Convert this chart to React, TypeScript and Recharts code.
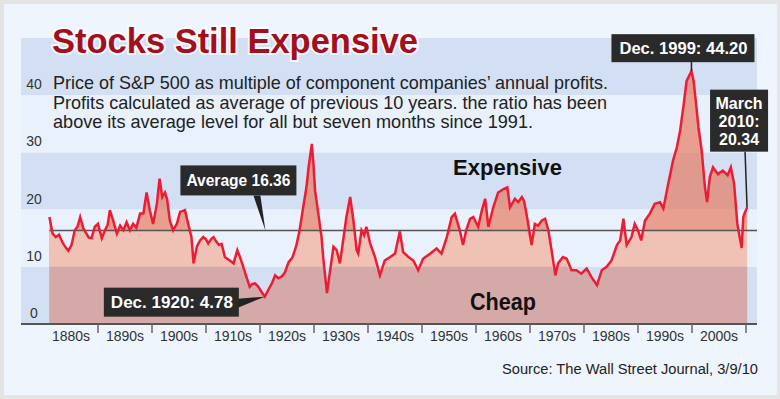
import React from "react";
import {
  ComposedChart,
  Area,
  Line,
  XAxis,
  YAxis,
  ReferenceArea,
  ReferenceLine,
  ReferenceDot,
} from "recharts";

// cyclically adjusted P/E of the S&P 500
const years = [
  1881.0, 1881.6, 1882.2, 1882.8, 1883.4, 1884.0, 1884.5, 1885.1, 1885.7, 1886.2,
  1886.7, 1887.3, 1887.8, 1888.3, 1888.8, 1889.4, 1890.0, 1890.7, 1891.3, 1891.8,
  1892.2, 1892.8, 1893.5, 1894.1, 1894.7, 1895.3, 1895.9, 1896.5, 1897.1, 1897.8,
  1898.4, 1899.0, 1899.6, 1900.2, 1900.9, 1901.4, 1901.9, 1902.4, 1902.8, 1903.3,
  1903.9, 1904.6, 1905.2, 1906.1, 1906.7, 1907.3, 1907.7, 1908.3, 1908.9, 1909.5,
  1910.0, 1910.4, 1911.0, 1911.4, 1911.9, 1912.4, 1912.9, 1913.5, 1914.4, 1915.1,
  1915.8, 1916.3, 1916.9, 1917.5, 1918.1, 1918.6, 1919.1, 1919.7, 1920.3, 1920.9,
  1921.5, 1922.2, 1922.8, 1923.4, 1924.0, 1924.6, 1925.3, 1926.0, 1926.7, 1927.3,
  1928.0, 1928.6, 1929.0, 1929.6, 1929.9, 1930.2, 1930.8, 1931.4, 1931.7, 1932.4,
  1933.0, 1933.6, 1934.2, 1934.8, 1935.4, 1936.0, 1936.7, 1937.3, 1937.9, 1938.2,
  1938.8, 1939.3, 1939.7, 1940.4, 1941.3, 1942.2, 1943.1, 1944.1, 1945.0, 1945.9,
  1946.5, 1947.5, 1948.4, 1949.3, 1950.2, 1951.5, 1952.7, 1953.6, 1954.6, 1955.5,
  1956.1, 1957.0, 1957.6, 1958.2, 1958.9, 1959.5, 1960.4, 1961.1, 1961.7, 1962.3,
  1963.2, 1964.1, 1965.1, 1965.8, 1966.3, 1967.2, 1967.8, 1968.5, 1968.9, 1969.4,
  1970.3, 1970.9, 1971.5, 1972.2, 1972.8, 1973.4, 1974.0, 1974.7, 1975.2, 1976.1,
  1976.8, 1977.7, 1978.6, 1979.5, 1980.5, 1981.4, 1982.4, 1983.3, 1984.2, 1985.1,
  1986.1, 1986.7, 1987.3, 1987.9, 1988.8, 1989.4, 1990.0, 1990.6, 1991.3, 1992.2,
  1993.1, 1994.1, 1994.7, 1995.6, 1996.5, 1997.2, 1997.8, 1998.4, 1999.0, 1999.9,
  2000.3, 2000.7, 2001.2, 2001.8, 2002.4, 2002.8, 2003.3, 2003.9, 2004.8, 2005.7,
  2006.6, 2007.2, 2007.8, 2008.4, 2009.2, 2009.5, 2009.8, 2010.2,
];

const peRatio = [
  18.7, 15.8, 15.2, 15.6, 14.3, 13.4, 12.8, 13.8, 16.4, 17.0,
  18.7, 16.7, 15.9, 15.1, 15.0, 17.0, 17.5, 15.0, 16.4, 17.4,
  19.9, 18.1, 15.8, 17.2, 16.4, 17.8, 16.4, 17.5, 16.8, 19.3,
  19.3, 23.0, 19.9, 17.5, 21.0, 25.4, 22.2, 23.0, 21.8, 18.1,
  16.4, 17.5, 19.6, 19.9, 17.5, 15.2, 10.6, 13.5, 14.6, 15.2,
  14.8, 14.1, 14.9, 15.2, 14.4, 13.8, 14.0, 11.7, 11.1, 10.6,
  12.9, 11.7, 10.0, 8.2, 6.5, 7.0, 7.1, 6.5, 5.6, 4.78,
  5.9, 7.1, 8.5, 8.0, 8.3, 9.0, 10.8, 11.6, 13.6, 16.2,
  20.4, 23.9, 27.4, 31.5, 28.0, 23.3, 19.3, 15.2, 11.7, 5.4,
  9.4, 13.5, 12.9, 10.6, 14.6, 18.7, 22.2, 18.1, 12.9, 12.3,
  16.4, 15.5, 17.0, 14.1, 11.7, 8.5, 11.1, 11.7, 12.3, 16.2,
  12.6, 11.7, 11.1, 9.4, 11.4, 12.3, 13.2, 12.3, 15.2, 18.7,
  19.3, 16.4, 13.8, 16.4, 18.4, 18.7, 17.0, 19.9, 21.9, 17.0,
  20.4, 23.0, 23.6, 23.9, 20.4, 21.9, 21.3, 22.2, 21.5, 19.0,
  13.8, 17.5, 17.2, 18.1, 18.4, 16.4, 12.9, 8.5, 10.6, 11.7,
  11.4, 9.4, 9.4, 8.8, 9.7, 8.2, 6.8, 9.4, 10.0, 11.1,
  13.8, 14.6, 18.4, 13.8, 15.2, 17.5, 16.4, 14.6, 18.1, 19.3,
  21.0, 21.3, 20.2, 24.5, 28.6, 30.9, 33.8, 37.9, 42.5, 44.2,
  42.5, 39.0, 34.4, 30.3, 23.9, 21.3, 25.7, 27.4, 26.2, 26.8,
  26.0, 27.4, 24.5, 17.5, 13.3, 18.7, 19.5, 20.34,
];

const AVERAGE = 16.36;
const CHEAP_LEVEL = 10;
const yTicks = [0, 10, 20, 30, 40];
const decadeEnds = [1890, 1900, 1910, 1920, 1930, 1940, 1950, 1960, 1970, 1980, 1990, 2000, 2010];
const blueBands = [
  [0, 10],
  [20, 30],
  [40, 50],
];

const data = years.map((year, i) => ({
  year,
  pe: peRatio[i],
  belowAvg: Math.min(peRatio[i], AVERAGE),
  cheap: Math.min(peRatio[i], CHEAP_LEVEL),
}));

const FONT = "'Liberation Sans', Arial, sans-serif";

// eslint-disable-next-line @typescript-eslint/no-explicit-any
function YTick({ x, y, payload }: any) {
  return (
    <text x={x + 13} y={y - 6} textAnchor="middle" fontSize={14} fontFamily={FONT} fill="#333">
      {payload.value}
    </text>
  );
}

// label sits in the middle of the decade that ends at the tick
// eslint-disable-next-line @typescript-eslint/no-explicit-any
function XTick({ x, y, payload }: any) {
  return (
    <text x={x - 27} y={y + 8} textAnchor="middle" fontSize={14} fontFamily={FONT} fill="#333">
      {`${payload.value - 10}s`}
    </text>
  );
}

// eslint-disable-next-line @typescript-eslint/no-explicit-any
function PeakCallout({ cx, cy }: any) {
  return (
    <g>
      <line x1={cx} y1={cy - 10} x2={cx} y2={cy} stroke="#222" strokeWidth={1.5} />
      <rect x={cx - 80} y={cy - 37} width={143} height={28} fill="#2a2a2a" />
      <text x={cx - 8} y={cy - 17} textAnchor="middle" fontSize={16} fontWeight="bold" fontFamily={FONT} fill="#fff" textLength={128} lengthAdjust="spacingAndGlyphs">
        Dec. 1999: 44.20
      </text>
    </g>
  );
}

// eslint-disable-next-line @typescript-eslint/no-explicit-any
function LatestCallout({ cx, cy }: any) {
  return (
    <g>
      <line x1={cx - 2} y1={cy - 56} x2={cx} y2={cy} stroke="#222" strokeWidth={1.5} />
      <rect x={cx - 37} y={cy - 118} width={58} height={62} fill="#2a2a2a" />
      {["March", "2010:", "20.34"].map((t, i) => (
        <text key={t} x={cx - 8} y={cy - 99 + i * 18} textAnchor="middle" fontSize={16} fontWeight="bold" fontFamily={FONT} fill="#fff">
          {t}
        </text>
      ))}
    </g>
  );
}

// eslint-disable-next-line @typescript-eslint/no-explicit-any
function AverageCallout({ cx, cy }: any) {
  return (
    <g>
      <polygon points={`${cx - 12},${cy - 35} ${cx - 5},${cy - 35} ${cx},${cy}`} fill="#222" />
      <rect x={cx - 85} y={cy - 65} width={116} height={30} fill="#2a2a2a" />
      <text x={cx - 27} y={cy - 44} textAnchor="middle" fontSize={16} fontWeight="bold" fontFamily={FONT} fill="#fff" textLength={104} lengthAdjust="spacingAndGlyphs">
        Average 16.36
      </text>
    </g>
  );
}

// eslint-disable-next-line @typescript-eslint/no-explicit-any
function LowCallout({ cx, cy }: any) {
  return (
    <g>
      <polygon points={`${cx - 27},${cy + 2} ${cx - 27},${cy + 11} ${cx},${cy}`} fill="#222" />
      <rect x={cx - 161} y={cy - 9} width={135} height={29} fill="#2a2a2a" />
      <text x={cx - 93} y={cy + 11} textAnchor="middle" fontSize={16} fontWeight="bold" fontFamily={FONT} fill="#fff" textLength={122} lengthAdjust="spacingAndGlyphs">
        Dec. 1920: 4.78
      </text>
    </g>
  );
}

export default function App() {
  return (
    <div style={{ position: "absolute", left: 0, top: 0, width: 780, height: 399, background: "#e4e4e4" }}>
      <div style={{ position: "absolute", left: 4, top: 4, right: 3, bottom: 4, background: "#eef5fd" }} />
      <div style={{ position: "absolute", left: 0, top: 0 }}>
        <ComposedChart width={780} height={399} data={data} margin={{ top: 38, right: 23, bottom: 45, left: 0 }}>
          {blueBands.map(([a, b]) => (
            <ReferenceArea key={a} y1={a} y2={b} fill="#d3e0f4" fillOpacity={1} stroke="none" />
          ))}
          <ReferenceArea y1={10} y2={20} fill="#e8f1fc" fillOpacity={1} stroke="none" />
          <ReferenceArea y1={30} y2={40} fill="#e8f1fc" fillOpacity={1} stroke="none" />

          <XAxis
            dataKey="year"
            type="number"
            domain={[1875.74, 2012.04]}
            ticks={decadeEnds}
            tick={<XTick />}
            tickSize={9}
            tickMargin={0}
            height={30}
            axisLine={{ stroke: "#555", strokeWidth: 2 }}
            tickLine={{ stroke: "#666", strokeWidth: 1.5 }}
          />
          <YAxis
            domain={[0, 50]}
            ticks={yTicks}
            tick={<YTick />}
            tickSize={0}
            tickMargin={0}
            width={21}
            axisLine={false}
            tickLine={false}
          />

          <Area dataKey="pe" type="linear" stroke="none" fill="#e86947" fillOpacity={0.6} isAnimationActive={false} />
          <Area dataKey="belowAvg" type="linear" stroke="none" fill="#f0c2b6" fillOpacity={1} isAnimationActive={false} />
          <Area dataKey="cheap" type="linear" stroke="none" fill="#d6a9a9" fillOpacity={1} isAnimationActive={false} />

          <ReferenceLine
            segment={[
              { x: 1881, y: AVERAGE },
              { x: 2012.04, y: AVERAGE },
            ]}
            stroke="#555"
            strokeWidth={1.5}
          />

          <Line dataKey="pe" type="linear" stroke="#ec1c34" strokeWidth={2.5} dot={false} isAnimationActive={false} />

          <ReferenceDot x={1999.9} y={44.2} r={0} shape={<PeakCallout />} />
          <ReferenceDot x={2010.2} y={20.34} r={0} shape={<LatestCallout />} />
          <ReferenceDot x={1921} y={AVERAGE} r={0} shape={<AverageCallout />} />
          <ReferenceDot x={1920.9} y={4.78} r={0} shape={<LowCallout />} />
        </ComposedChart>
      </div>
      <svg width={780} height={399} style={{ position: "absolute", left: 0, top: 0, pointerEvents: "none" }}>
        <text
          x={52}
          y={53}
          fontSize={35}
          fontWeight="bold"
          fontFamily={FONT}
          fill="#a30f1c"
          stroke="#ffffff"
          strokeOpacity={0.8}
          strokeWidth={4}
          paintOrder="stroke"
          textLength={366}
          lengthAdjust="spacingAndGlyphs"
        >
          Stocks Still Expensive
        </text>
        <g fontSize={19} fontFamily={FONT} fill="#222">
          <text x={53} y={89} textLength={555} lengthAdjust="spacingAndGlyphs">
            Price of S&amp;P 500 as multiple of component companies’ annual profits.
          </text>
          <text x={53} y={109} textLength={554} lengthAdjust="spacingAndGlyphs">
            Profits calculated as average of previous 10 years. the ratio has been
          </text>
          <text x={53} y={128} textLength={480} lengthAdjust="spacingAndGlyphs">
            above its average level for all but seven months since 1991.
          </text>
        </g>
        <text x={453} y={175} fontSize={22} fontWeight="bold" fontFamily={FONT} fill="#111" textLength={109} lengthAdjust="spacingAndGlyphs">
          Expensive
        </text>
        <text x={470} y={310} fontSize={23} fontWeight="bold" fontFamily={FONT} fill="#111" textLength={66} lengthAdjust="spacingAndGlyphs">
          Cheap
        </text>
        <text x={502} y={374} fontSize={14} fontFamily={FONT} fill="#222" textLength={256} lengthAdjust="spacingAndGlyphs">
          Source: The Wall Street Journal, 3/9/10
        </text>
      </svg>
    </div>
  );
}
